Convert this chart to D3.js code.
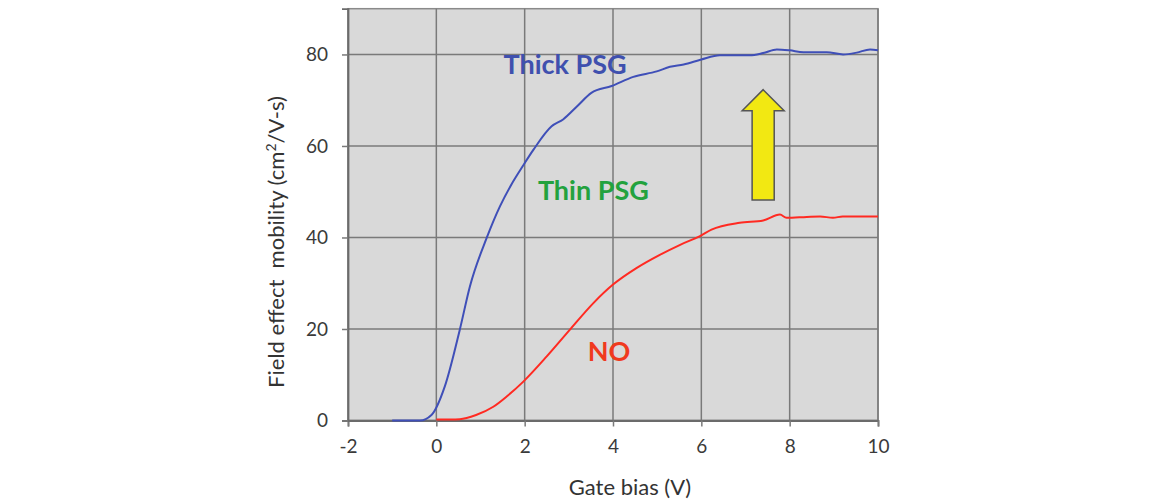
<!DOCTYPE html>
<html><head><meta charset="utf-8">
<script src="https://cdn.jsdelivr.net/npm/d3@7"></script>
<style>
html,body{margin:0;padding:0;background:#fff;}
svg{display:block;font-family:Lato,"Open Sans",sans-serif;}
</style></head>
<body>
<svg id="chart" width="1149" height="502"></svg>
<script>
// Data
const xTicks = [-2, 0, 2, 4, 6, 8, 10];
const yTicks = [0, 20, 40, 60, 80];
const thickX = [-1, -0.37, -0.11, 0.19, 0.53, 0.76, 1.14, 1.44, 1.7, 1.97, 2.2, 2.61, 2.87, 3.2, 3.51, 3.97, 4.46, 4.99, 5.29, 5.6, 6.0, 6.42, 7.1, 7.4, 7.71, 8.0, 8.31, 8.84, 9.21, 9.52, 9.82, 10];
const thickY = [0, 0, 1.2, 7.4, 19.8, 29.3, 39.9, 46.8, 51.6, 55.8, 59.2, 64.3, 65.8, 68.8, 71.6, 73.1, 75.1, 76.3, 77.3, 77.8, 78.9, 79.8, 79.8, 80.3, 81.1, 80.9, 80.5, 80.5, 80.0, 80.4, 81.1, 80.9];
const noX = [0, 0.53, 0.9, 1.29, 1.6, 1.97, 2.5, 3.02, 3.55, 4.0, 4.53, 5.06, 5.52, 5.97, 6.23, 6.87, 7.4, 7.78, 7.93, 8.39, 8.69, 8.98, 9.2, 10];
const noY = [0.2, 0.3, 1.2, 3.0, 5.3, 8.5, 14.0, 19.8, 25.6, 29.7, 33.3, 36.2, 38.4, 40.3, 41.7, 43.2, 43.7, 45.0, 44.3, 44.5, 44.6, 44.3, 44.6, 44.6];
const labels = ["Thick PSG", "Thin PSG", "NO"];
const labelX = [1.52, 2.3, 3.43];
const labelY = [75.8, 48.3, 13.0];
const labelColors = ["#3f50ae", "#23a23e", "#f03a1e"];
// arrow annotation (data coords): center x, tip y, head base y, tail y
const arrowX = [7.4];
const arrowTipY = [72.3];
const arrowHeadY = [67.7];
const arrowTailY = [48.2];

const svg = d3.select("#chart");
const L = 348, R = 878, T = 8.7, B = 420.5;
const x = d3.scaleLinear().domain([-2, 10]).range([L, R]);
const y = d3.scaleLinear().domain([0, 90]).range([B, T]);

// plot background
svg.append("rect").attr("x", L).attr("y", T).attr("width", R - L).attr("height", B - T)
  .attr("fill", "#d9d9d9").attr("stroke", "#8a8a8a").attr("stroke-width", 1.5);

// grid
const grid = svg.append("g").attr("stroke", "#7a7a7a").attr("stroke-width", 1.5);
grid.selectAll("line.v").data(xTicks).join("line")
  .attr("x1", d => x(d)).attr("x2", d => x(d)).attr("y1", T).attr("y2", B);
grid.selectAll("line.h").data(yTicks).join("line")
  .attr("x1", L).attr("x2", R).attr("y1", d => y(d)).attr("y2", d => y(d));

// axes
const xAxis = svg.append("g").attr("transform", `translate(0,${B})`)
  .call(d3.axisBottom(x).tickValues(xTicks).tickSize(6).tickPadding(13).tickFormat(d => d));
const yAxis = svg.append("g").attr("transform", `translate(${L},0)`)
  .call(d3.axisLeft(y).tickValues(yTicks).tickSize(6).tickPadding(14).tickFormat(d => d));
[xAxis, yAxis].forEach(a => {
  a.select(".domain").attr("stroke", "#6b6b6b").attr("stroke-width", 1.8);
  a.selectAll(".tick line").attr("stroke", "#7a7a7a").attr("stroke-width", 1.5);
  a.selectAll(".tick text").attr("fill", "#3a3a3a").style("font-size", "19px").style("font-family", "Lato, sans-serif");
});

// lines
const line = d3.line().x(d => x(d[0])).y(d => y(d[1])).curve(d3.curveMonotoneX);
svg.append("path").datum(noX.map((v, i) => [v, noY[i]]))
  .attr("d", line).attr("fill", "none").attr("stroke", "#ff2a22").attr("stroke-width", 2);
svg.append("path").datum(thickX.map((v, i) => [v, thickY[i]]))
  .attr("d", line).attr("fill", "none").attr("stroke", "#3f4fb8").attr("stroke-width", 2);

// arrow
const sw = 0.25, hw = 0.475;
arrowX.forEach((cx, i) => {
  const pts = [
    [cx, arrowTipY[i]], [cx + hw, arrowHeadY[i]], [cx + sw, arrowHeadY[i]],
    [cx + sw, arrowTailY[i]], [cx - sw, arrowTailY[i]], [cx - sw, arrowHeadY[i]],
    [cx - hw, arrowHeadY[i]]
  ];
  svg.append("polygon").attr("points", pts.map(p => [x(p[0]), y(p[1])].join(",")).join(" "))
    .attr("fill", "#f2e812").attr("stroke", "#555").attr("stroke-width", 1.5).attr("stroke-linejoin", "miter");
});

// series labels
svg.selectAll("text.lbl").data(labels).join("text").attr("class", "lbl")
  .attr("x", (d, i) => x(labelX[i])).attr("y", (d, i) => y(labelY[i]))
  .attr("fill", (d, i) => labelColors[i])
  .style("font-size", "27px").style("font-weight", "bold").style("font-family", "Lato, sans-serif")
  .text(d => d);

// axis titles
svg.append("text").attr("x", 630).attr("y", 495).attr("text-anchor", "middle")
  .attr("fill", "#333").style("font-size", "22px").style("font-family", "Lato, sans-serif")
  .text("Gate bias (V)");
const yt = svg.append("text").attr("transform", "translate(284,242) rotate(-90)").attr("text-anchor", "middle")
  .attr("fill", "#333").style("font-size", "22px").style("font-family", "Lato, sans-serif")
  .style("white-space", "pre");
yt.append("tspan").text("Field effect  mobility (cm");
yt.append("tspan").attr("dy", -8).style("font-size", "14px").text("2");
yt.append("tspan").attr("dy", 8).text("/V-s)");
</script>
</body></html>
